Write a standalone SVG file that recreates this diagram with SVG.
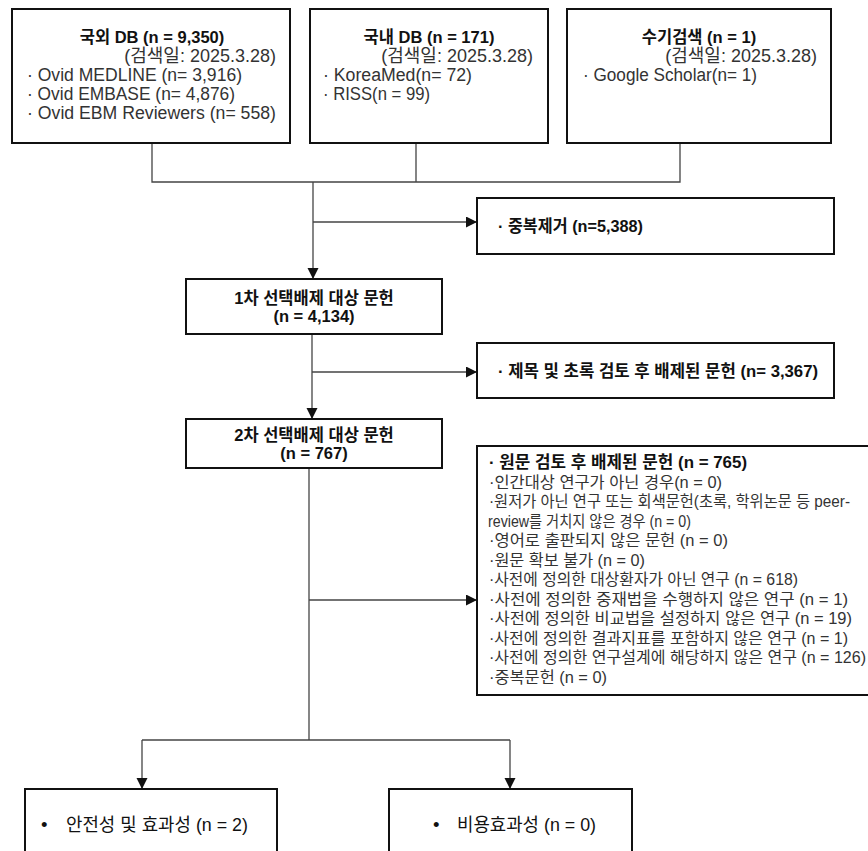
<svg xmlns="http://www.w3.org/2000/svg" width="868" height="851" viewBox="0 0 868 851">
  <defs>
    <marker id="arr" markerUnits="userSpaceOnUse" markerWidth="12" markerHeight="12" refX="11" refY="5.5" orient="auto">
      <path d="M0,0 L11,5.5 L0,11 z" fill="#111"/>
    </marker>
    <style>
      text { font-family: "Liberation Sans", "Noto Sans CJK KR", sans-serif; fill: #222; }
      .box { fill: #fff; stroke: #111; stroke-width: 2; }
      .conn { fill: none; stroke: #444; stroke-width: 1.3; }
      .ttl { font-size: 16.5px; font-weight: bold; fill: #111; }
      .body { font-size: 18px; fill: #333; }
      .mid { font-size: 16.5px; font-weight: bold; fill: #111; }
      .ex { font-size: 16px; fill: #333; }
      .exb { font-size: 16.5px; font-weight: bold; fill: #111; }
      .res { font-size: 18.5px; fill: #111; }
    </style>
  </defs>
  <rect width="868" height="851" fill="#fff"/>

  <g id="connectors">
    <path class="conn" d="M152,143 V182 H680 V143 M416,143 V182"/>
    <path class="conn" d="M313,182 V279" marker-end="url(#arr)"/>
    <path class="conn" d="M313,222 H477" marker-end="url(#arr)"/>
    <path class="conn" d="M312,334 V419" marker-end="url(#arr)"/>
    <path class="conn" d="M312,372 H477" marker-end="url(#arr)"/>
    <path class="conn" d="M309,468 V740"/>
    <path class="conn" d="M309,600 H477" marker-end="url(#arr)"/>
    <path class="conn" d="M142,740 H510"/>
    <path class="conn" d="M142,740 V789" marker-end="url(#arr)"/>
    <path class="conn" d="M510,740 V789" marker-end="url(#arr)"/>
  </g>

  <g id="foreign-db">
    <rect class="box" x="12" y="9" width="278" height="134"/>
    <text class="ttl" x="152" y="43" text-anchor="middle">국외 DB (n = 9,350)</text>
    <text class="body" x="276" y="62" text-anchor="end">(검색일: 2025.3.28)</text>
    <text class="body" x="27" y="81" textLength="215" lengthAdjust="spacingAndGlyphs">· Ovid MEDLINE (n= 3,916)</text>
    <text class="body" x="27" y="100" textLength="208" lengthAdjust="spacingAndGlyphs">· Ovid EMBASE (n= 4,876)</text>
    <text class="body" x="27" y="119" textLength="249" lengthAdjust="spacingAndGlyphs">· Ovid EBM Reviewers (n= 558)</text>
  </g>

  <g id="domestic-db">
    <rect class="box" x="310" y="9" width="238" height="134"/>
    <text class="ttl" x="429" y="43" text-anchor="middle">국내 DB (n = 171)</text>
    <text class="body" x="533" y="62" text-anchor="end">(검색일: 2025.3.28)</text>
    <text class="body" x="323" y="81" textLength="149" lengthAdjust="spacingAndGlyphs">· KoreaMed(n= 72)</text>
    <text class="body" x="323" y="100" textLength="107" lengthAdjust="spacingAndGlyphs">· RISS(n = 99)</text>
  </g>

  <g id="manual-search">
    <rect class="box" x="567" y="9" width="264" height="134"/>
    <text class="ttl" x="699" y="43" text-anchor="middle">수기검색 (n = 1)</text>
    <text class="body" x="817" y="62" text-anchor="end">(검색일: 2025.3.28)</text>
    <text class="body" x="583" y="81" textLength="174" lengthAdjust="spacingAndGlyphs">· Google Scholar(n= 1)</text>
  </g>

  <g id="duplicates">
    <rect class="box" x="477" y="198" width="357" height="56"/>
    <text class="mid" x="498" y="232" textLength="145" lengthAdjust="spacingAndGlyphs">· 중복제거 (n=5,388)</text>
  </g>

  <g id="first-screen">
    <rect class="box" x="186" y="279" width="256" height="55"/>
    <text class="mid" x="314" y="304" text-anchor="middle">1차 선택배제 대상 문헌</text>
    <text class="mid" x="314" y="322" text-anchor="middle">(n = 4,134)</text>
  </g>

  <g id="title-abstract-excluded">
    <rect class="box" x="477" y="343" width="357" height="55"/>
    <text class="mid" x="498" y="377" textLength="320" lengthAdjust="spacingAndGlyphs">· 제목 및 초록 검토 후 배제된 문헌 (n= 3,367)</text>
  </g>

  <g id="second-screen">
    <rect class="box" x="186" y="419" width="256" height="49"/>
    <text class="mid" x="314" y="441" text-anchor="middle">2차 선택배제 대상 문헌</text>
    <text class="mid" x="314" y="459" text-anchor="middle">(n = 767)</text>
  </g>

  <g id="fulltext-excluded">
    <rect class="box" x="477" y="446" width="400" height="249"/>
    <text class="exb" x="489" y="468" textLength="258" lengthAdjust="spacingAndGlyphs">· 원문 검토 후 배제된 문헌 (n = 765)</text>
    <text class="ex" x="489" y="487.5" textLength="233" lengthAdjust="spacingAndGlyphs">·인간대상 연구가 아닌 경우(n = 0)</text>
    <text class="ex" x="489" y="507" textLength="361" lengthAdjust="spacingAndGlyphs">·원저가 아닌 연구 또는 회색문헌(초록, 학위논문 등 peer-</text>
    <text class="ex" x="488" y="526.5" textLength="203" lengthAdjust="spacingAndGlyphs">review를 거치지 않은 경우 (n = 0)</text>
    <text class="ex" x="489" y="546" textLength="239" lengthAdjust="spacingAndGlyphs">·영어로 출판되지 않은 문헌 (n = 0)</text>
    <text class="ex" x="489" y="565.5" textLength="156" lengthAdjust="spacingAndGlyphs">·원문 확보 불가 (n = 0)</text>
    <text class="ex" x="489" y="585" textLength="309" lengthAdjust="spacingAndGlyphs">·사전에 정의한 대상환자가 아닌 연구 (n = 618)</text>
    <text class="ex" x="489" y="604.5" textLength="359" lengthAdjust="spacingAndGlyphs">·사전에 정의한 중재법을 수행하지 않은 연구 (n = 1)</text>
    <text class="ex" x="489" y="624" textLength="363" lengthAdjust="spacingAndGlyphs">·사전에 정의한 비교법을 설정하지 않은 연구 (n = 19)</text>
    <text class="ex" x="489" y="643.5" textLength="359" lengthAdjust="spacingAndGlyphs">·사전에 정의한 결과지표를 포함하지 않은 연구 (n = 1)</text>
    <text class="ex" x="489" y="663" textLength="377" lengthAdjust="spacingAndGlyphs">·사전에 정의한 연구설계에 해당하지 않은 연구 (n = 126)</text>
    <text class="ex" x="489" y="682.5" textLength="118" lengthAdjust="spacingAndGlyphs">·중복문헌 (n = 0)</text>
  </g>

  <g id="safety-efficacy">
    <rect class="box" x="25" y="789" width="252" height="80"/>
    <text class="res" x="41" y="831">•</text>
    <text class="res" x="66" y="831" textLength="182" lengthAdjust="spacingAndGlyphs">안전성 및 효과성 (n = 2)</text>
  </g>

  <g id="cost-effectiveness">
    <rect class="box" x="389" y="789" width="243" height="80"/>
    <text class="res" x="433" y="831">•</text>
    <text class="res" x="457" y="831" textLength="139" lengthAdjust="spacingAndGlyphs">비용효과성 (n = 0)</text>
  </g>
</svg>
